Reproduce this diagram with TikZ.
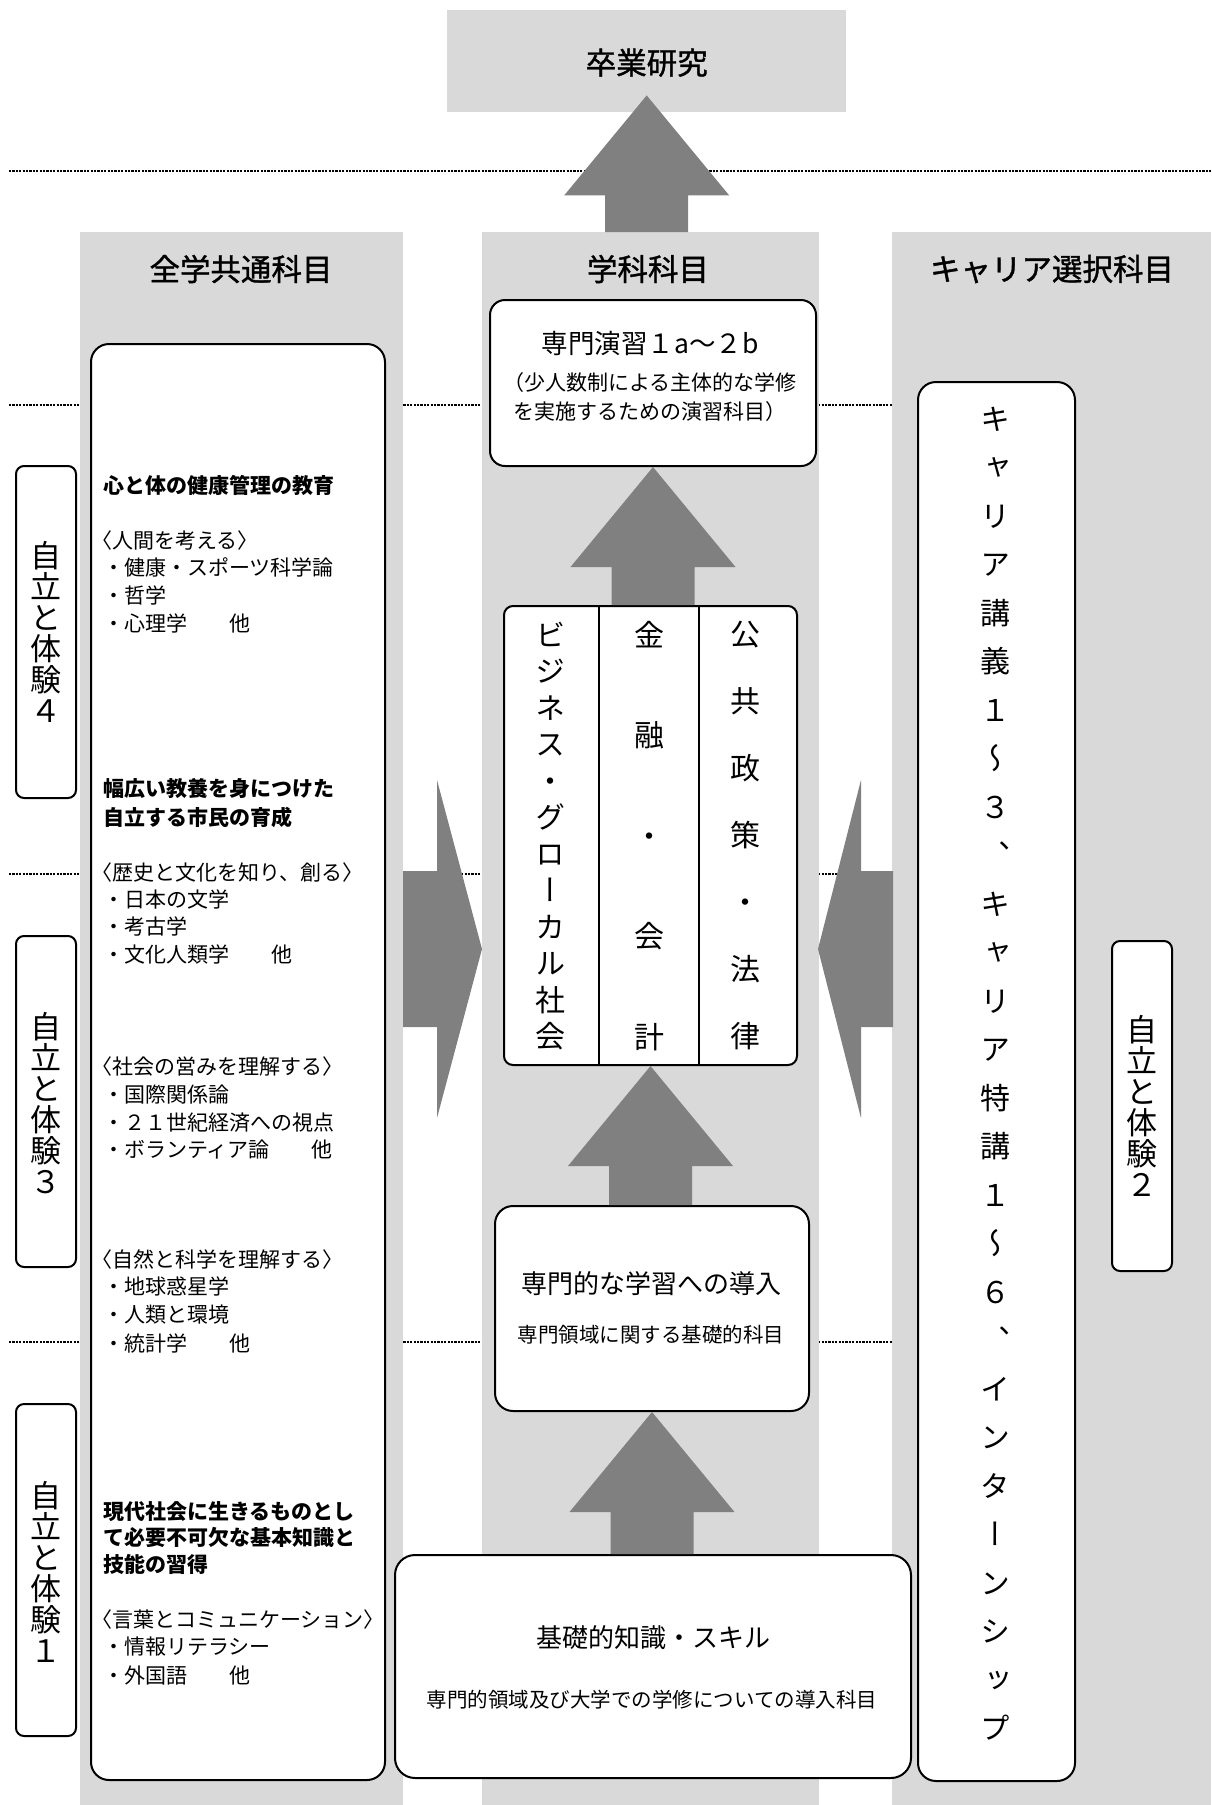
\documentclass[tikz,border=0pt]{standalone}
\usepackage{fontspec}
\setmainfont{Noto Sans CJK JP}
\newfontfamily\vjp[RawFeature=+vert]{Noto Sans CJK JP}
\newfontfamily\medjp[FakeBold=1.2]{Noto Sans CJK JP}
\usetikzlibrary{calc}
\definecolor{colgray}{HTML}{D9D9D9}
\definecolor{arrgray}{HTML}{808080}
\newcommand{\nolsk}{\lineskiplimit=-1000pt\lineskip=0pt\relax}
\newcommand{\blkup}[2]{\fill[arrgray] let \p1=(#1), \p2=(#2) in
  (\x2-41.5pt,\y1) -- (\x2-41.5pt,\y2-100pt) -- (\x2-82.5pt,\y2-100pt) -- (\x2,\y2)
  -- (\x2+82.5pt,\y2-100pt) -- (\x2+41.5pt,\y2-100pt) -- (\x2+41.5pt,\y1) -- cycle;}
\begin{document}
\begin{tikzpicture}[x=1pt,y=-1pt,
  bg/.style={fill=colgray, draw=none, rectangle, inner sep=0pt, anchor=north west},
  wbox/.style={draw=black, line width=2pt, fill=white, rectangle, inner sep=0pt, anchor=north west},
  dline/.style={draw=black, line width=2.4pt, dash pattern=on 2.2pt off 1.2pt},
  ltxt/.style={anchor=base west, inner sep=0pt, font=\fontsize{21}{27.6}\selectfont},
  lbold/.style={anchor=base west, inner sep=0pt, font=\fontsize{21}{27.6}\selectfont\bfseries},
  vtxt/.style={inner sep=0pt, align=center},
  coltitle/.style={inner sep=0pt, font=\medjp\fontsize{30.5}{36}\selectfont},
]
\useasboundingbox (0,0) rectangle (1211,1805);
\fill[white] (0,0) rectangle (1211,1805);

% dashed separators
\draw[dline] (9,171) -- (1211,171);
\draw[dline] (9,405) -- (1211,405);
\draw[dline] (9,874) -- (1211,874);
\draw[dline] (9,1342) -- (1211,1342);

% columns
\node[bg, minimum width=323pt, minimum height=1573pt] (lcol) at (80,232) {};
\node[bg, minimum width=337pt, minimum height=1573pt] (ccol) at (482,232) {};
\node[bg, minimum width=319pt, minimum height=1573pt] (rcol) at (892,232) {};
\node[bg, minimum width=399pt, minimum height=102pt] (grad) at (447,10) {};

\node[coltitle] (gradt) at ($(grad.center)+(0,1.5)$) {卒業研究};
\node[coltitle] (lcolt) at (241,269) {全学共通科目};
\node[coltitle] (ccolt) at (648,269) {学科科目};
\node[coltitle] (rcolt) at (1052,269) {キャリア選択科目};

% arrow to graduation research
\coordinate (gradtip) at ($(grad.south)+(0,-17)$);
\blkup{ccol.north}{gradtip}

% white boxes
\node[wbox, rounded corners=18pt, minimum width=294pt, minimum height=1436pt] (lbox) at (90,343) {};
\node[wbox, rounded corners=15pt, minimum width=326pt, minimum height=166pt] (semi) at (489,299) {};
\node[wbox, rounded corners=9pt, minimum width=293pt, minimum height=459pt] (tri) at (503,605) {};
\node[wbox, rounded corners=18pt, minimum width=314pt, minimum height=205pt] (intro) at (494,1205) {};
\node[wbox, rounded corners=20pt, minimum width=516pt, minimum height=223pt] (basebox) at (394,1554) {};
\node[wbox, rounded corners=18pt, minimum width=157pt, minimum height=1399pt] (career) at (917,381) {};
\node[wbox, rounded corners=8pt, minimum width=60pt, minimum height=332pt] (j4) at (15,465) {};
\node[wbox, rounded corners=8pt, minimum width=60pt, minimum height=331pt] (j3) at (15,935) {};
\node[wbox, rounded corners=8pt, minimum width=60pt, minimum height=332pt] (j1) at (15,1403) {};
\node[wbox, rounded corners=8pt, minimum width=60pt, minimum height=330pt] (j2) at (1111,940) {};

% up arrows between boxes
\blkup{tri.north}{semi.south}
\blkup{intro.north}{tri.south}
\blkup{basebox.north}{intro.south}

% side arrows
\fill[arrgray] (403,871) -- (437,871) -- (437,780) -- (482,949) -- (437,1118) -- (437,1027) -- (403,1027) -- cycle;
\fill[arrgray] (893,871) -- (861,871) -- (861,780) -- (818,949) -- (861,1118) -- (861,1027) -- (893,1027) -- cycle;

% tri dividers
\draw[line width=2pt] ($(tri.north west)+(96,0)$) -- ($(tri.south west)+(96,0)$);
\draw[line width=2pt] ($(tri.north west)+(196,0)$) -- ($(tri.south west)+(196,0)$);

% tri texts
\node[vtxt, font=\vjp\fontsize{30}{36.5}\selectfont\nolsk] (tc1) at (550,836) {ビ\\ジ\\ネ\\ス\\・\\グ\\ロ\\ー\\カ\\ル\\社\\会};
\node[vtxt, font=\vjp\fontsize{30}{100.5}\selectfont\nolsk] (tc2) at (649,836) {金\\融\\・\\会\\計};
\node[vtxt, font=\vjp\fontsize{30}{67}\selectfont\nolsk] (tc3) at (745,836) {公\\共\\政\\策\\・\\法\\律};

% center texts
\node[inner sep=0pt, font=\fontsize{26.5}{30}\selectfont] (semit) at (650,343) {専門演習１a～２b};
\node[inner sep=0pt, align=center, font=\fontsize{21}{29}\selectfont] (semis) at (650,397) {（少人数制による主体的な学修\\を実施するための演習科目）};
\node[inner sep=0pt, font=\fontsize{26}{30}\selectfont] (introt) at (651,1284) {専門的な学習への導入};
\node[inner sep=0pt, font=\fontsize{20.5}{25}\selectfont] (intros) at (651,1335) {専門領域に関する基礎的科目};
\node[inner sep=0pt, font=\fontsize{26}{30}\selectfont] (baset) at (653,1638) {基礎的知識・スキル};
\node[inner sep=0pt, font=\fontsize{20.5}{25}\selectfont] (bases) at (652,1700) {専門的領域及び大学での学修についての導入科目};

% career text
\node[vtxt, font=\vjp\fontsize{30}{48.5}\selectfont\nolsk] (ct) at (995,1073.5) {キ\\ャ\\リ\\ア\\講\\義\\１\\～\\３\\、\\キ\\ャ\\リ\\ア\\特\\講\\１\\～\\６\\、\\イ\\ン\\タ\\ー\\ン\\シ\\ッ\\プ};

% jiritsu texts
\node[vtxt, font=\fontsize{31}{31}\selectfont\nolsk] (j4t) at (j4.center) {自\\立\\と\\体\\験\\４};
\node[vtxt, font=\fontsize{31}{31}\selectfont\nolsk] (j3t) at ($(j3.center)+(0,1.5)$) {自\\立\\と\\体\\験\\３};
\node[vtxt, font=\fontsize{31}{31}\selectfont\nolsk] (j1t) at ($(j1.center)+(0,1.5)$) {自\\立\\と\\体\\験\\１};
\node[vtxt, font=\fontsize{31}{31}\selectfont\nolsk] (j2t) at (j2.center) {自\\立\\と\\体\\験\\２};

% left texts
\node[lbold] (l1) at (103,493) {心と体の健康管理の教育};
\node[ltxt] (l2) at (91,548) {〈人間を考える〉};
\node[ltxt] (l3) at (103,575.5) {・健康・スポーツ科学論};
\node[ltxt] (l4) at (103,603) {・哲学};
\node[ltxt] (l5) at (103,631) {・心理学　　他};
\node[lbold] (l6) at (103,796) {幅広い教養を身につけた};
\node[lbold] (l7) at (103,825) {自立する市民の育成};
\node[ltxt] (l8) at (91,880) {〈歴史と文化を知り、創る〉};
\node[ltxt] (l9) at (103,907) {・日本の文学};
\node[ltxt] (l10) at (103,934.5) {・考古学};
\node[ltxt] (l11) at (103,962) {・文化人類学　　他};
\node[ltxt] (l12) at (91,1074) {〈社会の営みを理解する〉};
\node[ltxt] (l13) at (103,1102) {・国際関係論};
\node[ltxt] (l14) at (103,1130) {・２１世紀経済への視点};
\node[ltxt] (l15) at (103,1157) {・ボランティア論　　他};
\node[ltxt] (l16) at (91,1267) {〈自然と科学を理解する〉};
\node[ltxt] (l17) at (103,1294) {・地球惑星学};
\node[ltxt] (l18) at (103,1322) {・人類と環境};
\node[ltxt] (l19) at (103,1351) {・統計学　　他};
\node[lbold] (l20) at (103,1519) {現代社会に生きるものとし};
\node[lbold] (l21) at (103,1545) {て必要不可欠な基本知識と};
\node[lbold] (l22) at (103,1572) {技能の習得};
\node[ltxt] (l23) at (91,1627) {〈言葉とコミュニケーション〉};
\node[ltxt] (l24) at (103,1654) {・情報リテラシー};
\node[ltxt] (l25) at (103,1683) {・外国語　　他};
\end{tikzpicture}
\end{document}
